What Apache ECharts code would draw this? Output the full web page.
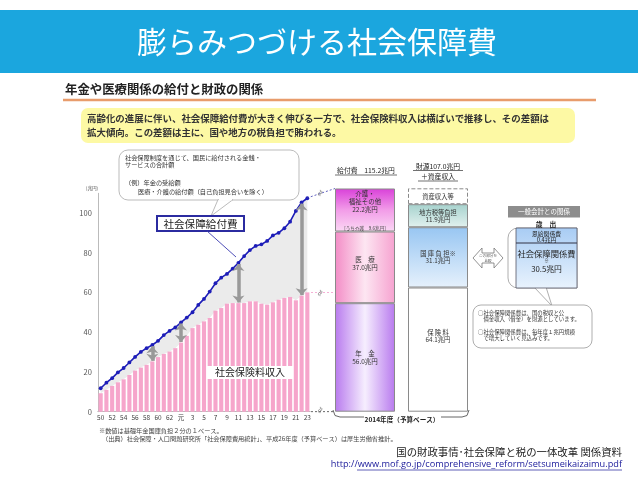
<!DOCTYPE html>
<html>
<head>
<meta charset="utf-8">
<script src="https://cdn.jsdelivr.net/npm/echarts@6/dist/echarts.min.js"></script>
<style>html,body{margin:0;padding:0;background:#fff}#c{width:638px;height:479px}</style>
</head>
<body>
<div id="c"></div>
<script>
// 年度ラベル（昭和50年〜平成23年）
var years = ['50','51','52','53','54','55','56','57','58','59','60','61','62','63','元',
  '2','3','4','5','6','7','8','9','10','11','12','13','14','15','16','17','18','19','20','21','22','23'];
// 社会保障給付費（兆円）
var benefit = [11.8,14.6,16.9,19.8,22.0,24.8,27.6,30.1,32.0,33.6,35.7,38.6,40.7,42.4,45.0,
  47.4,50.1,53.8,56.8,60.5,64.7,67.5,69.4,72.1,75.0,78.4,81.4,83.5,84.3,86.0,88.8,90.1,92.4,95.7,101.1,105.4,107.5];
// 社会保険料収入（兆円）
var contrib = [9.3,11.0,13.0,14.8,16.3,18.5,20.7,22.2,23.6,25.3,27.5,29.1,30.3,32.0,34.8,
  38.2,42.1,43.8,45.5,47.2,50.9,52.2,54.4,54.7,54.7,54.7,55.6,55.6,54.4,53.9,55.1,56.4,57.3,57.8,56.1,58.4,60.1];
// 差額の矢印を置く年度
var arrowYears = ['59','元','11','22'];
var yTicks = {min: 0, max: 110, interval: 20};

// 2014年度（予算ベース）
var fyCats = ['給付費', '財源'];
var benefitParts = ['年　金', '医　療', '介護・\n福祉その他'];
var benefitValues = [56.0, 37.0, 22.2];
var kaigoShare = 9.6;
var fundParts = ['保 険 料', '国 庫 負 担※', '地方税等負担', '資産収入等'];
var fundValues = [64.1, 31.1, 11.9, 8.2];

var F = '"Noto Sans CJK JP", sans-serif';
var chart = echarts.init(document.getElementById('c'), null, {renderer: 'canvas'});

function grad(h, stops) {
  return {type: 'linear', x: 0, y: 0, x2: h ? 1 : 0, y2: h ? 0 : 1,
    colorStops: stops.map(function (c, i) { return {offset: i / (stops.length - 1), color: c}; })};
}
var benefitColors = [
  grad(true, ['#b87aee', '#f6eefe', '#b87aee']),
  grad(true, ['#f38cc6', '#fde6f2', '#f6a2d0']),
  grad(false, ['#d940d9', '#f29ce8', '#fbd8f4'])
];
var fundColors = ['#ffffff', grad(false, ['#98c6f2', '#e6f1fc']), grad(false, ['#a6d2cd', '#e2f1ef']), '#ffffff'];

function T(text, x, y, size, o) {
  o = o || {};
  return {type: 'text', x: x, y: y, z: 20, rotation: o.rot || 0,
    style: {text: text, fontSize: size, fontFamily: o.family || F, fontWeight: o.weight || 'normal',
      fill: o.color || '#333', align: o.align || 'left', verticalAlign: 'middle',
      textAlign: o.align || 'left', textVerticalAlign: 'middle', lineHeight: o.lh}};
}
function L(x1, y1, x2, y2, color, w, dash) {
  return {type: 'line', z: 15, shape: {x1: x1, y1: y1, x2: x2, y2: y2},
    style: {stroke: color, lineWidth: w || 1, lineDash: dash || null}};
}
function R(x, y, w, h, fill, stroke, lw, r, z) {
  return {type: 'rect', z: z || 12, shape: {x: x, y: y, width: w, height: h, r: r || 0},
    style: {fill: fill, stroke: stroke || null, lineWidth: lw || 1}};
}

var series = [
  {type: 'line', data: contrib, stack: 'gap', symbol: 'none', lineStyle: {opacity: 0}, silent: true, z: 1},
  {type: 'line', data: benefit.map(function (v, i) { return +(v - contrib[i]).toFixed(1); }), stack: 'gap',
    symbol: 'none', lineStyle: {opacity: 0}, areaStyle: {color: '#ebebeb', opacity: 1}, silent: true, z: 1},
  {type: 'bar', data: contrib, barWidth: '72%', itemStyle: {color: '#f6a5cb'}, z: 2,
    markLine: {silent: true, symbol: ['arrow', 'arrow'], symbolSize: [9, 7],
      lineStyle: {color: '#999', width: 3.5, type: 'solid'}, label: {show: false},
      data: arrowYears.map(function (y) {
        var i = years.indexOf(y);
        return [{coord: [y, contrib[i] + 0.3]}, {coord: [y, benefit[i] - 0.6]}];
      })}},
  {type: 'line', data: benefit, symbol: 'circle', symbolSize: 3.8, z: 4,
    lineStyle: {color: '#1d1db8', width: 1.6}, itemStyle: {color: '#1d1db8'}}
];

benefitValues.forEach(function (v, i) {
  var lab = benefitParts[i].split('\n').map(function (s) { return '{a|' + s + '}'; }).join('\n') +
    '\n{a|' + v.toFixed(1) + '兆円}';
  if (i === 2) lab += '\n{s|[うち介護　' + kaigoShare.toFixed(1) + '兆円]}';
  series.push({type: 'bar', xAxisIndex: 1, yAxisIndex: 1, stack: 'fy', barWidth: 60,
    data: [v, '-'], itemStyle: {color: benefitColors[i], borderColor: '#8a8a8a', borderWidth: 1},
    label: {show: true, position: 'inside', offset: [0, i === 1 ? -4 : 0], formatter: lab,
      rich: {a: {fontSize: 6.5, lineHeight: 8.3, color: '#333', fontFamily: F},
        s: {fontSize: 4.6, lineHeight: 17, verticalAlign: 'bottom', color: '#444', fontFamily: F}}}});
});
fundValues.forEach(function (v, i) {
  var lab = '{a|' + fundParts[i] + '}' + (i < 3 ? '\n{a|' + v.toFixed(1) + '兆円}' : '');
  series.push({type: 'bar', xAxisIndex: 1, yAxisIndex: 1, stack: 'fy', barWidth: 60,
    data: ['-', v], itemStyle: {color: fundColors[i], borderColor: '#8a8a8a', borderWidth: 1,
      borderType: i === 3 ? 'dashed' : 'solid'},
    label: {show: true, position: 'inside', offset: [0, i === 0 ? -13 : 0], formatter: lab,
      rich: {a: {fontSize: 6.3, lineHeight: 7, color: '#333', fontFamily: F}}}});
});

var fyMax = Math.max(benefitValues.reduce(function (a, b) { return a + b; }, 0),
  fundValues.reduce(function (a, b) { return a + b; }, 0));

var graphic = [
  R(0, 10, 638, 63, '#1ba6de', null, 0, 0, 5),
  T('膨らみつづける社会保障費', 317, 42, 30, {align: 'center', color: '#fff'}),
  T('年金や医療関係の給付と財政の関係', 65, 89, 12.4, {weight: 'bold', color: '#222'}),
  L(63, 100, 596, 100, '#e89c6c', 2.5),
  R(81, 108, 494, 35, '#fdf9a4', null, 0, 7, 5),
  T('高齢化の進展に伴い、社会保障給付費が大きく伸びる一方で、社会保険料収入は横ばいで推移し、その差額は', 87, 118.5, 9.45, {weight: 'bold', color: '#333'}),
  T('拡大傾向。この差額は主に、国や地方の税負担で賄われる。', 87, 132, 9.45, {weight: 'bold', color: '#333'}),
  // 吹き出し
  R(119, 150, 180, 50, '#fff', '#aaa', 0.8, 9, 12),
  {type: 'polygon', z: 13, shape: {points: [[218, 199.6], [211, 216], [233, 199.6]]}, style: {fill: '#fff', stroke: '#aaa', lineWidth: 0.8}},
  L(218.8, 199.6, 232.2, 199.6, '#fff', 1.4),
  T('社会保障制度を通じて、国民に給付される金銭・', 125, 157.5, 6.2),
  T('サービスの合計額', 125, 164.5, 6.2),
  T('（例）年金の受給額', 125, 182.5, 6.2),
  T('医療・介護の給付額（自己負担見合いを除く）', 138, 191.5, 6.2),
  R(157, 216, 87, 15, '#fff', '#2b2ba0', 2, 0, 14),
  T('社会保障給付費', 200.5, 223.7, 10.6, {align: 'center', color: '#222'}),
  L(207, 231, 236, 257, '#3a3ab0', 0.9),
  R(207, 366, 86, 13, '#fff', null, 0, 0, 14),
  T('社会保険料収入', 250, 372.6, 10, {align: 'center', color: '#222'}),
  T('(兆円)', 92, 188, 4.6, {align: 'center', color: '#555'}),
  // 右への接続
  L(307, 198, 335, 188.5, '#3a3ab0', 0.8, [2, 2]),
  L(311, 292.5, 335, 292.5, '#f39ccb', 0.8, [2, 2]),
  L(311, 411.7, 335, 411.7, '#444', 0.8, [2, 2]),
  T('≈', 320, 193, 8, {align: 'center', color: '#666', rot: 1.1}),
  T('≈', 320, 293, 8, {align: 'center', color: '#666', rot: 1.1}),
  T('≈', 320, 410, 8, {align: 'center', color: '#666', rot: 1.1}),
  // 見出し
  T('給付費　115.2兆円', 366, 170.5, 6.8, {align: 'center', color: '#222'}),
  L(335, 175, 397, 175, '#333', 0.7),
  T('財源107.0兆円', 438, 166, 6.8, {align: 'center', color: '#222'}),
  L(413, 170.5, 463, 170.5, '#333', 0.7),
  T('＋資産収入', 438, 176.5, 6.8, {align: 'center', color: '#222'}),
  L(418, 181, 458, 181, '#333', 0.7),
  // 2014年度
  {type: 'polyline', z: 15, shape: {points: [[333, 410], [335, 415.5], [340, 417], [364, 417]]}, style: {stroke: '#555', lineWidth: 0.9, fill: null}},
  {type: 'polyline', z: 15, shape: {points: [[441, 417], [462, 417], [467, 415.5], [469, 410]]}, style: {stroke: '#555', lineWidth: 0.9, fill: null}},
  T('2014年度（予算ベース）', 402, 419.5, 6.6, {align: 'center', weight: 'bold', color: '#222'}),
  // 一般会計との関係
  R(508, 206, 72, 11.5, '#8d8d8d', null, 0, 0, 12),
  T('一般会計との関係', 544, 211.8, 6.5, {align: 'center', color: '#fff'}),
  T('歳　出', 546, 224.3, 6.8, {align: 'center', weight: 'bold', color: '#222'}),
  R(508, 228, 69, 60, '#fff', '#999', 0.8, [10, 0, 0, 10], 11),
  {type: 'polygon', z: 11, shape: {points: [[534, 287], [552, 306], [546, 287]]}, style: {fill: '#fff', stroke: '#999', lineWidth: 0.8}},
  {type: 'rect', z: 13, shape: {x: 516, y: 228, width: 61, height: 60},
    style: {fill: grad(false, ['#a8ccf4', '#e9f3fd']), stroke: '#556', lineWidth: 0.8}},
  L(516, 243, 577, 243, '#334', 1),
  T('恩給関係費', 546.5, 233.3, 5.8, {align: 'center', color: '#222'}),
  T('0.4兆円', 546.5, 239.3, 5.8, {align: 'center', color: '#222'}),
  T('社会保障関係費', 546.5, 254, 8.3, {align: 'center', color: '#222'}),
  T('※', 546.5, 260.5, 4.6, {align: 'center', color: '#333'}),
  T('30.5兆円', 546.5, 269.5, 7.8, {align: 'center', color: '#222'}),
  {type: 'polygon', z: 12, shape: {points: [[473, 258], [482, 248], [482, 253], [494, 253], [494, 248], [503, 258], [494, 268], [494, 263], [482, 263], [482, 268]]},
    style: {fill: '#fff', stroke: '#777', lineWidth: 0.8}},
  T('この部分を\n比較', 488, 258, 3.6, {align: 'center', color: '#555', lh: 4.4}),
  R(473, 305, 119, 43, '#fff', '#999', 0.8, 8, 12),
  T('○社会保障関係費は、国の税収と公', 478, 312.7, 5.4),
  T('　債金収入（借金）を財源としています。', 478, 319.3, 5.4),
  T('○社会保障関係費は、毎年度１兆円規模', 478, 331.7, 5.4),
  T('　で増大していく見込みです。', 478, 338.3, 5.4),
  // 注記
  T('※数値は基礎年金国庫負担２分の１ベース。', 99, 431, 6.2, {color: '#444'}),
  T('（出典）社会保障・人口問題研究所「社会保障費用統計」、平成26年度（予算ベース）は厚生労働省推計。', 102, 438.5, 6.2, {color: '#444'}),
  T('国の財政事情･社会保障と税の一体改革 関係資料', 622, 452, 10.4, {align: 'right', color: '#222'}),
  T('http://www.mof.go.jp/comprehensive_reform/setsumeikaizaimu.pdf', 622, 464.5, 9.2, {align: 'right', color: '#1a1a9a', family: '"Open Sans", sans-serif'}),
  L(357, 470, 622, 470, '#1a1a9a', 0.7)
];

chart.setOption({
  animation: false,
  backgroundColor: '#fff',
  grid: [
    {left: 97.8, width: 212.4, top: 193.3, height: 218.4},
    {left: 328.5, width: 146, top: 188.3, height: 223.4}
  ],
  xAxis: [
    {type: 'category', gridIndex: 0, data: years,
      axisLine: {lineStyle: {color: '#bbb'}}, axisTick: {show: false},
      axisLabel: {interval: 1, fontSize: 6.5, color: '#444', margin: 3, fontFamily: F}},
    {type: 'category', gridIndex: 1, data: fyCats, show: false}
  ],
  yAxis: [
    {type: 'value', gridIndex: 0, min: yTicks.min, max: yTicks.max, interval: yTicks.interval,
      axisLine: {show: true, lineStyle: {color: '#bbb'}}, axisTick: {show: false}, splitLine: {show: false},
      axisLabel: {fontSize: 7.5, color: '#555', margin: 6, showMaxLabel: false, fontFamily: F}},
    {type: 'value', gridIndex: 1, min: 0, max: fyMax, show: false, splitLine: {show: false}}
  ],
  series: series,
  graphic: graphic
});
</script>
</body>
</html>
